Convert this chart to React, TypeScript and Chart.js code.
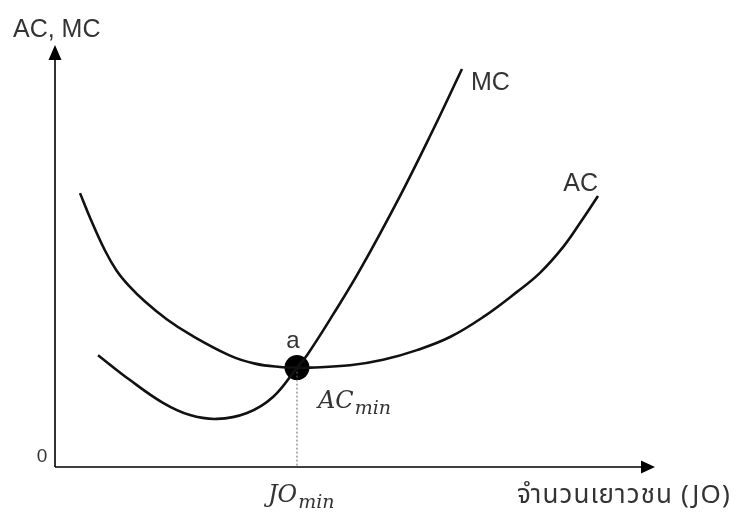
import React, { useEffect, useRef } from "react";
import { Chart, registerables } from "chart.js";

Chart.register(...registerables);

// AC curve (average cost)
const acX = [4.17, 5.95, 8.33, 10.28, 12.22, 15.0, 18.62, 22.5, 29.17, 33.33, 37.5, 40.33, 42.5, 49.17, 54.67, 60.33, 65.83, 71.33, 77.0, 80.83, 84.67, 87.5, 90.5];
const acY = [64.9, 58.7, 51.3, 46.5, 43.1, 39.2, 35.0, 31.4, 26.4, 24.5, 23.7, 23.55, 23.55, 24.1, 25.4, 27.7, 30.8, 35.5, 41.5, 46.0, 52.1, 57.8, 64.2];

// MC curve (marginal cost)
const mcX = [7.17, 12.5, 18.0, 22.5, 27.0, 32.0, 36.33, 40.33, 42.0, 46.33, 50.83, 57.5, 62.67, 67.83];
const mcY = [26.5, 20.6, 15.2, 12.3, 11.4, 12.8, 16.6, 23.55, 26.5, 36.1, 46.7, 64.2, 78.9, 94.3];

// point a (AC minimum)
const pointA = [40.33, 23.55];

// axis ranges
const xRange = [0, 100];
const yRange = [0, 100];

// labels
const yAxisLabel = "AC, MC";
const xAxisLabel = "จำนวนเยาวชน (JO)";
const originLabel = "0";
const mcLabel = "MC";
const acLabel = "AC";
const aLabel = "a";

const SANS = '"Liberation Sans", Arial, "Noto Sans", sans-serif';
const MATH = '"DejaVu Serif", "Liberation Serif", serif';
const TEXT = "#333333";

const decorPlugin = {
  id: "decor",
  afterDatasetsDraw(chart: any) {
    const ctx = chart.ctx as CanvasRenderingContext2D;
    const xs = chart.scales.x;
    const ys = chart.scales.y;
    const x0 = xs.getPixelForValue(xRange[0]);
    const x1 = xs.getPixelForValue(xRange[1]);
    const y0 = ys.getPixelForValue(yRange[0]);
    const y1 = ys.getPixelForValue(yRange[1]);
    ctx.save();
    // axes
    ctx.strokeStyle = "#000";
    ctx.fillStyle = "#000";
    ctx.lineWidth = 1.6;
    ctx.beginPath();
    ctx.moveTo(x0, y0);
    ctx.lineTo(x1 - 8, y0);
    ctx.moveTo(x0, y0);
    ctx.lineTo(x0, y1 + 8);
    ctx.stroke();
    // arrow heads
    ctx.beginPath();
    ctx.moveTo(x1, y0);
    ctx.lineTo(x1 - 14, y0 - 6.5);
    ctx.lineTo(x1 - 14, y0 + 6.5);
    ctx.closePath();
    ctx.fill();
    ctx.beginPath();
    ctx.moveTo(x0, y1);
    ctx.lineTo(x0 - 6.5, y1 + 15);
    ctx.lineTo(x0 + 6.5, y1 + 15);
    ctx.closePath();
    ctx.fill();

    // texts
    ctx.fillStyle = TEXT;
    ctx.textBaseline = "alphabetic";
    ctx.font = `25px ${SANS}`;
    ctx.textAlign = "left";
    ctx.fillText(yAxisLabel, x0 - 42, y1 - 8);
    ctx.font = `19px ${SANS}`;
    ctx.textAlign = "center";
    ctx.fillText(originLabel, x0 - 13, y0 - 5);

    const mcEx = xs.getPixelForValue(mcX[mcX.length - 1]);
    const mcEy = ys.getPixelForValue(mcY[mcY.length - 1]);
    ctx.font = `25px ${SANS}`;
    ctx.textAlign = "left";
    ctx.fillText(mcLabel, mcEx + 9, mcEy + 21);

    const acEx = xs.getPixelForValue(acX[acX.length - 1]);
    const acEy = ys.getPixelForValue(acY[acY.length - 1]);
    ctx.textAlign = "right";
    ctx.fillText(acLabel, acEx, acEy - 5);

    const ax = xs.getPixelForValue(pointA[0]);
    const ay = ys.getPixelForValue(pointA[1]);
    ctx.font = `24px ${SANS}`;
    ctx.textAlign = "center";
    ctx.fillText(aLabel, ax - 4, ay - 20);

    // math labels
    const drawSub = (main: string, sub: string, left: number, base: number) => {
      ctx.textAlign = "left";
      ctx.font = `italic 24px ${MATH}`;
      ctx.fillText(main, left, base);
      const w = ctx.measureText(main).width;
      ctx.font = `italic 19px ${MATH}`;
      ctx.fillText(sub, left + w + 1, base + 6);
    };
    drawSub("AC", "min", ax + 21, ay + 40);
    drawSub("JO", "min", ax - 29, y0 + 35);

    // x axis title, fitted to the reference span
    ctx.fillStyle = TEXT;
    ctx.font = `26px "Noto Sans Thai", "Noto Sans", ${SANS}`;
    ctx.textAlign = "left";
    const targetW = 215;
    const w = ctx.measureText(xAxisLabel).width;
    const n = Array.from(xAxisLabel).length;
    const extra = Math.max(0, (targetW - w) / n);
    (ctx as any).letterSpacing = `${extra.toFixed(2)}px`;
    ctx.fillText(xAxisLabel, 517, y0 + 36);
    (ctx as any).letterSpacing = "0px";
    ctx.restore();
  },
};

export default function App() {
  const ref = useRef<HTMLCanvasElement | null>(null);
  useEffect(() => {
    document.body.style.margin = "0";
    if (!ref.current) return;
    const chart = new Chart(ref.current, {
      type: "scatter",
      data: {
        datasets: [
          {
            label: "AC",
            data: acX.map((x, i) => ({ x, y: acY[i] })),
            showLine: true,
            borderColor: "#111",
            borderWidth: 2.6,
            pointRadius: 0,
            tension: 0.4,
            clip: false,
          } as any,
          {
            label: "MC",
            data: mcX.map((x, i) => ({ x, y: mcY[i] })),
            showLine: true,
            borderColor: "#111",
            borderWidth: 2.6,
            pointRadius: 0,
            tension: 0.4,
            clip: false,
          } as any,
          {
            label: "drop",
            data: [
              { x: pointA[0], y: pointA[1] },
              { x: pointA[0], y: yRange[0] },
            ],
            showLine: true,
            borderColor: "#666",
            borderWidth: 1,
            borderDash: [2, 2],
            pointRadius: 0,
            clip: false,
          } as any,
          {
            label: "a",
            data: [{ x: pointA[0], y: pointA[1] }],
            pointRadius: 12.5,
            pointBackgroundColor: "#000",
            pointBorderColor: "#000",
            pointBorderWidth: 0,
            clip: false,
          } as any,
        ],
      },
      options: {
        animation: false,
        responsive: false,
        maintainAspectRatio: false,
        layout: { padding: { left: 55, right: 84, top: 45, bottom: 45 } },
        plugins: { legend: { display: false }, tooltip: { enabled: false } },
        scales: {
          x: { type: "linear", min: xRange[0], max: xRange[1], display: false },
          y: { type: "linear", min: yRange[0], max: yRange[1], display: false },
        },
      },
      plugins: [decorPlugin],
    });
    return () => chart.destroy();
  }, []);
  return (
    <div style={{ width: 739, height: 512, background: "#fff" }}>
      <canvas ref={ref} width={739} height={512} style={{ display: "block" }} />
    </div>
  );
}
